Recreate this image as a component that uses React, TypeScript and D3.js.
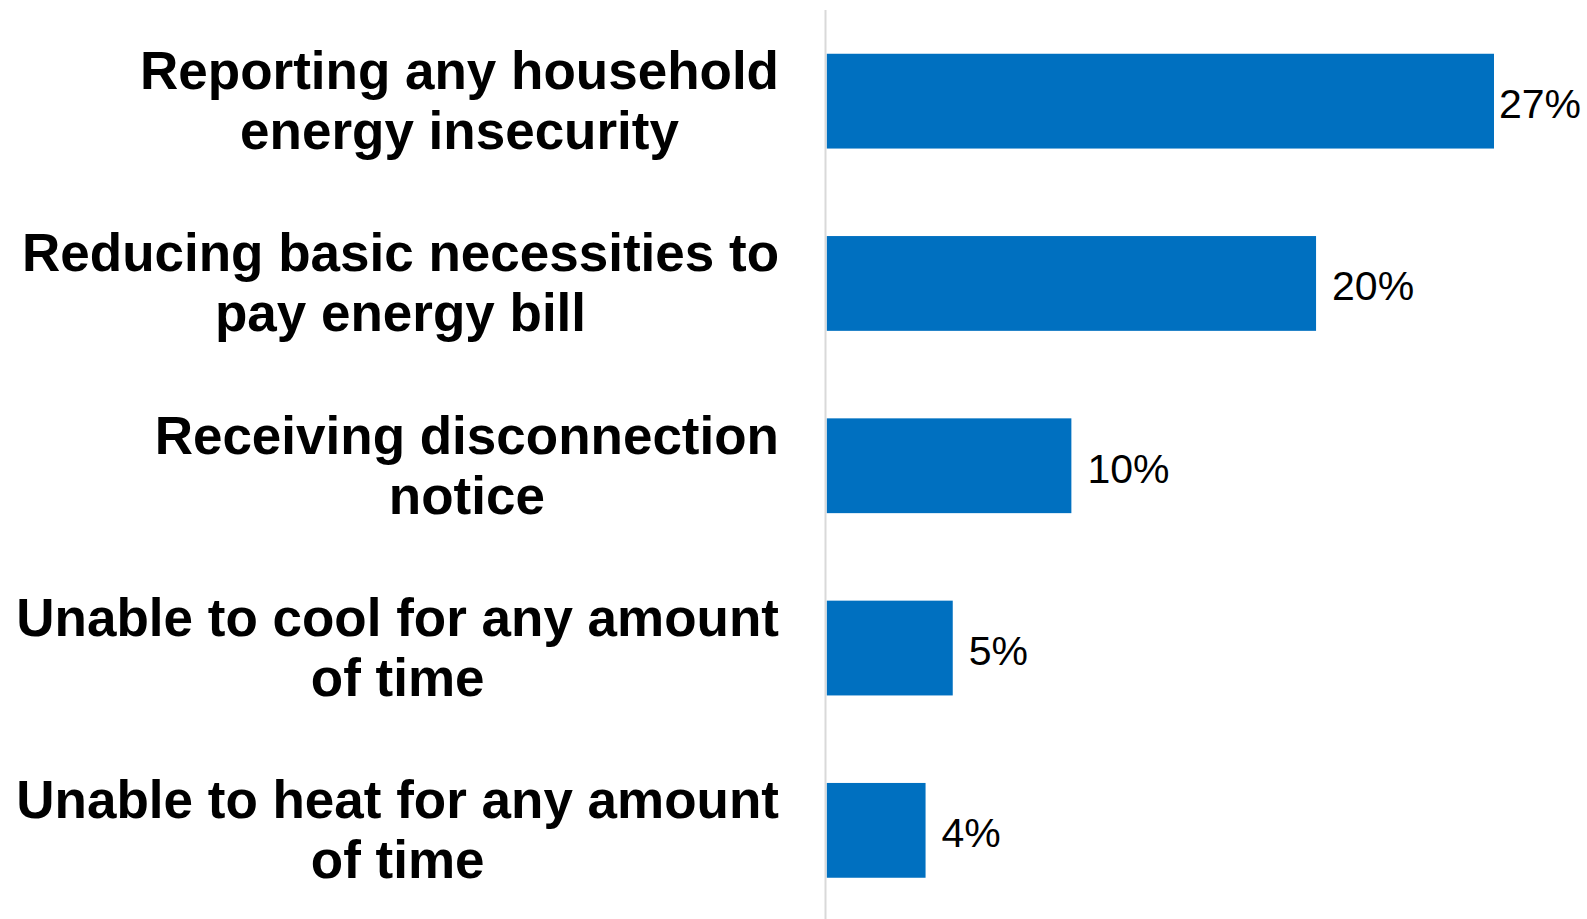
import React, { useEffect, useRef } from "react";
import * as d3 from "d3";

const categories: string[][] = [
  ["Reporting any household", "energy insecurity"],
  ["Reducing basic necessities to", "pay energy bill"],
  ["Receiving disconnection", "notice"],
  ["Unable to cool for any amount", "of time"],
  ["Unable to heat for any amount", "of time"],
];
const values: number[] = [27, 19.8, 9.9, 5.1, 4];
const valueLabels: string[] = ["27%", "20%", "10%", "5%", "4%"];

const W = 1587;
const H = 919;

export default function App() {
  const ref = useRef<SVGSVGElement | null>(null);

  useEffect(() => {
    const svg = d3.select(ref.current);
    svg.selectAll("*").remove();

    const x0 = 826.7;
    const x = d3.scaleLinear().domain([0, 27]).range([x0, 1494]);
    const y = d3
      .scaleBand<number>()
      .domain(d3.range(values.length))
      .range([10, 10 + 5 * 182.3])
      .paddingInner(0.48)
      .paddingOuter(0.24);

    // bars
    svg
      .selectAll("rect.bar")
      .data(values)
      .join("rect")
      .attr("class", "bar")
      .attr("x", x0)
      .attr("y", (_, i) => y(i)!)
      .attr("width", (d) => x(d) - x0)
      .attr("height", y.bandwidth())
      .attr("fill", "#0070c0");

    // axis line
    svg
      .append("line")
      .attr("x1", 825.5)
      .attr("x2", 825.5)
      .attr("y1", 10)
      .attr("y2", H)
      .attr("stroke", "#d9d9d9")
      .attr("stroke-width", 2);

    // value labels
    const chartRight = 1581;
    svg
      .selectAll("text.val")
      .data(values)
      .join("text")
      .attr("class", "val")
      .attr("font-family", "Liberation Sans, Arial, sans-serif")
      .attr("font-size", 41)
      .attr("fill", "#000")
      .attr("y", (_, i) => y(i)! + y.bandwidth() / 2 + 17)
      .text((_, i) => valueLabels[i])
      .each(function (d) {
        const el = this as SVGTextElement;
        const w = el.getComputedTextLength();
        const xx = Math.min(x(d) + 16, chartRight - w);
        d3.select(el).attr("x", xx);
      });

    // category labels
    const rightEdge = 779;
    const lineH = 60;
    categories.forEach((lines, i) => {
      const cy = y(i)! + y.bandwidth() / 2;
      const g = svg.append("g");
      const texts = lines.map((ln, j) =>
        g
          .append("text")
          .attr("font-family", "Liberation Sans, Arial, sans-serif")
          .attr("font-weight", "bold")
          .attr("font-size", 53)
          .attr("fill", "#000")
          .attr("text-anchor", "middle")
          .attr("y", cy + 18 + (j - (lines.length - 1) / 2) * lineH)
          .text(ln)
      );
      let maxW = 0;
      texts.forEach((t) => {
        const w = (t.node() as SVGTextElement).getComputedTextLength();
        if (w > maxW) maxW = w;
      });
      const cx = rightEdge - maxW / 2;
      texts.forEach((t) => t.attr("x", cx));
    });
  }, []);

  return (
    <svg
      ref={ref}
      width={W}
      height={H}
      style={{ position: "absolute", left: 0, top: 0, background: "#fff" }}
    />
  );
}
